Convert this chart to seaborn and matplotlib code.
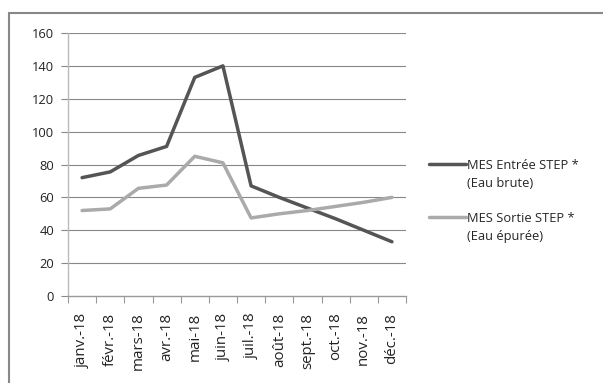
import matplotlib
matplotlib.use("Agg")
import matplotlib.pyplot as plt
import seaborn as sns
import pandas as pd
from matplotlib.lines import Line2D

months = ["janv.-18", "févr.-18", "mars-18", "avr.-18", "mai-18", "juin-18",
          "juil.-18", "août-18", "sept.-18", "oct.-18", "nov.-18", "déc.-18"]
entree = [72, 75.5, 85.5, 91, 133, 140, 67, 60, 53.5, 47, 40, 33]
sortie = [52, 53, 65.5, 67.5, 85, 81, 47.5, 50, 52, 54.5, 57, 60]
series_names = ["MES Entrée STEP *", "MES Sortie STEP *"]
series_notes = ["(Eau brute)", "(Eau épurée)"]
y_ticks = [0, 20, 40, 60, 80, 100, 120, 140, 160]

sns.set_theme(style="white")
plt.rcParams["font.family"] = ["Open Sans", "DejaVu Sans"]

df = pd.DataFrame({
    "mois": months * 2,
    "pos": list(range(len(months))) * 2,
    "valeur": entree + sortie,
    "serie": [series_names[0]] * len(months) + [series_names[1]] * len(months),
})

W, H = 603, 383
fs = 9.3
fig = plt.figure(figsize=(W / 100, H / 100), dpi=100)
ax = fig.add_axes([68 / W, 1 - 296 / H, (406 - 68) / W, (296 - 33) / H])

colors = {series_names[0]: "#555555", series_names[1]: "#aaaaaa"}
sns.lineplot(data=df, x="pos", y="valeur", hue="serie", palette=colors,
             linewidth=2.5, ax=ax, legend=False, sort=False)

ax.set_xlim(-0.5, len(months) - 0.5)
ax.set_ylim(0, 160)
ax.set_yticks(y_ticks)
ax.set_yticklabels([str(v) for v in y_ticks], fontsize=fs, color="#222222")
ax.set_xticks(range(len(months)))
ax.set_xticklabels(months, rotation=90, fontsize=10.8, color="#222222")
ax.set_xlabel("")
ax.set_ylabel("")

# horizontal gridlines
for v in y_ticks[1:]:
    ax.axhline(v, color="#888888", linewidth=0.8, zorder=0)

for side in ["top", "right"]:
    ax.spines[side].set_visible(False)
ax.spines["left"].set_color("#bbbbbb")
ax.spines["left"].set_linewidth(1.0)
ax.spines["bottom"].set_color("#999999")
ax.spines["bottom"].set_linewidth(1.0)

# y ticks drawn outward, x category separators below the axis
ax.tick_params(axis="y", which="major", length=5, width=0.8, color="#888888",
               direction="out", left=True, pad=5)
ax.tick_params(axis="x", which="major", length=0, pad=12)
ax.set_xticks([i - 0.5 for i in range(len(months) + 1)], minor=True)
ax.tick_params(axis="x", which="minor", length=5, width=0.8, color="#999999",
               direction="out", bottom=True)

# one legend block per series: line + name, then the note on its own row
blank = Line2D([0], [0], color="none")
for name, note, top in zip(series_names, series_notes, [159, 212]):
    h = Line2D([0], [0], color=colors[name], linewidth=2.5)
    fig.legend([h, blank], [name, note], loc="upper left",
               bbox_to_anchor=(429 / W, 1 - top / H), frameon=False,
               fontsize=fs, handlelength=2.9, handletextpad=0.05,
               labelspacing=0.42, borderaxespad=0, borderpad=0)

# chart frame
fig.add_artist(Line2D([9 / W, 9 / W], [0, 1 - 13 / H], transform=fig.transFigure,
                      color="#888888", linewidth=1.5))
fig.add_artist(Line2D([9 / W, 1], [1 - 13 / H, 1 - 13 / H], transform=fig.transFigure,
                      color="#888888", linewidth=1.5))

fig.savefig("out.png", dpi=100, facecolor="white")
